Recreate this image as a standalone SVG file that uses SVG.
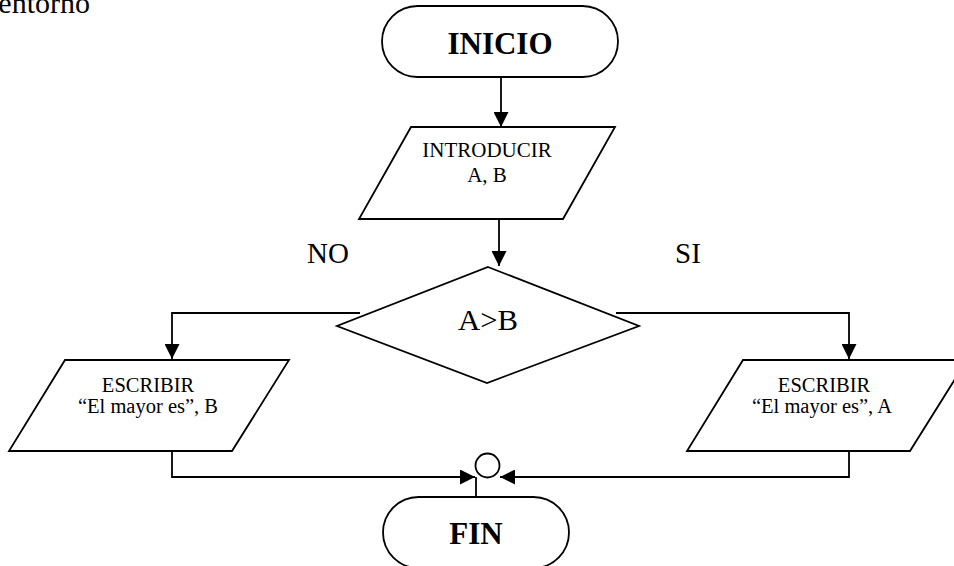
<svg xmlns="http://www.w3.org/2000/svg" width="954" height="566" viewBox="0 0 954 566">
<defs>
<marker id="ah" viewBox="0 0 10 10" refX="10" refY="5" markerWidth="15" markerHeight="15" markerUnits="userSpaceOnUse" orient="auto">
<path d="M0,0 L10,5 L0,10 z" fill="#000"/>
</marker>
<style>
.s{fill:#fff;stroke:#000;stroke-width:1.8}
.c{fill:none;stroke:#000;stroke-width:1.8}
.t{font-family:"Liberation Serif","Times New Roman",serif;fill:#000;text-anchor:middle}
.b{font-weight:bold;font-size:31px}
.m{font-size:20.5px}
.l{font-size:29px}
</style>
</defs>
<rect width="954" height="566" fill="#fff"/>
<text class="t" x="90" y="13" style="text-anchor:end;font-size:30px">entorno</text>
<g id="connectors">
<path class="c" d="M501,77 V127" marker-end="url(#ah)"/>
<path class="c" d="M499,219 V266" marker-end="url(#ah)"/>
<path class="c" d="M360,313 H172 V359" marker-end="url(#ah)"/>
<path class="c" d="M616,313 H849 V359" marker-end="url(#ah)"/>
<path class="c" d="M172,451 V477 H475" marker-end="url(#ah)"/>
<path class="c" d="M849,451 V477 H500" marker-end="url(#ah)"/>
<path class="c" d="M476,477 V497"/>
</g>
<g id="inicio">
<rect class="s" x="382" y="6" width="236" height="71" rx="35.5"/>
<text class="t b" x="500" y="54">INICIO</text>
</g>
<g id="introducir">
<polygon class="s" points="411,127 615,127 563,219 359,219"/>
<text class="t m" x="487" y="157" style="font-size:21px">INTRODUCIR</text>
<text class="t m" x="487" y="182" style="font-size:21px">A, B</text>
</g>
<g id="decision">
<polygon class="s" points="488,267 639,326 487,383 337,326"/>
<text class="t l" x="488" y="330" textLength="60" lengthAdjust="spacingAndGlyphs">A&gt;B</text>
</g>
<g id="labels">
<text class="t l" x="328" y="263">NO</text>
<text class="t l" x="688" y="263">SI</text>
</g>
<g id="escribirB">
<polygon class="s" points="65,360 289,360 232,451 9,451"/>
<text class="t m" x="148" y="392">ESCRIBIR</text>
<text class="t m" x="148" y="413">“El mayor es”, B</text>
</g>
<g id="escribirA">
<polygon class="s" points="743,360 967,360 910,451 687,451"/>
<text class="t m" x="824" y="392">ESCRIBIR</text>
<text class="t m" x="822" y="413">“El mayor es”, A</text>
</g>
<g id="connector-circle">
<circle class="s" cx="487.5" cy="465.5" r="12"/>
</g>
<g id="fin">
<rect class="s" x="383" y="497" width="186" height="71" rx="35.5"/>
<text class="t b" x="476" y="544">FIN</text>
</g>
</svg>
